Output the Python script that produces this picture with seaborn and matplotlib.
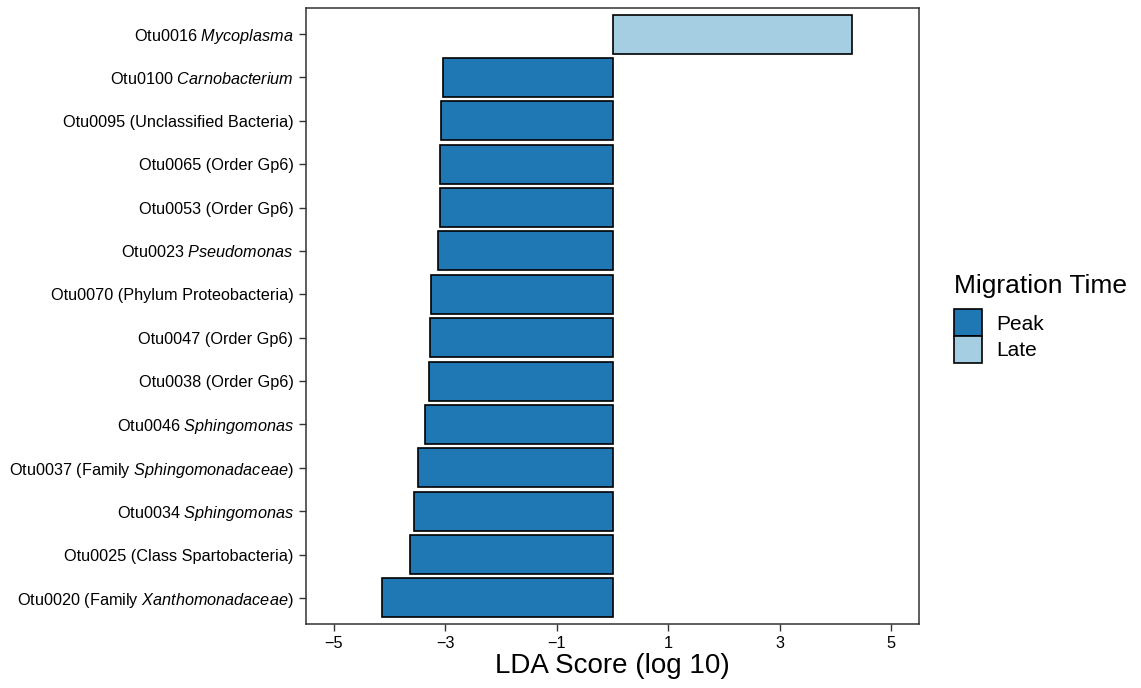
import matplotlib
matplotlib.use("Agg")
import matplotlib.pyplot as plt
import seaborn as sns
import pandas as pd
from matplotlib.patches import Patch

otu_labels = [
    "Otu0016 $\\it{Mycoplasma}$",
    "Otu0100 $\\it{Carnobacterium}$",
    "Otu0095 (Unclassified Bacteria)",
    "Otu0065 (Order Gp6)",
    "Otu0053 (Order Gp6)",
    "Otu0023 $\\it{Pseudomonas}$",
    "Otu0070 (Phylum Proteobacteria)",
    "Otu0047 (Order Gp6)",
    "Otu0038 (Order Gp6)",
    "Otu0046 $\\it{Sphingomonas}$",
    "Otu0037 (Family $\\it{Sphingomonadaceae}$)",
    "Otu0034 $\\it{Sphingomonas}$",
    "Otu0025 (Class Spartobacteria)",
    "Otu0020 (Family $\\it{Xanthomonadaceae}$)",
]
lda_scores = [4.30, -3.05, -3.07, -3.09, -3.09, -3.14, -3.25, -3.28, -3.30,
              -3.36, -3.49, -3.56, -3.63, -4.13]
migration_time = ["Late"] + ["Peak"] * 13
group_order = ["Peak", "Late"]
group_colors = {"Peak": "#1F78B4", "Late": "#A6CEE3"}
x_ticks = [-5, -3, -1, 1, 3, 5]

sns.set_style("white")
plt.rcParams["font.family"] = ["Liberation Sans", "DejaVu Sans"]
plt.rcParams["mathtext.fontset"] = "custom"
plt.rcParams["mathtext.rm"] = "Liberation Sans"
plt.rcParams["mathtext.it"] = "Liberation Sans:italic"
plt.rcParams["mathtext.bf"] = "Liberation Sans:bold"
plt.rcParams["text.color"] = "black"
plt.rcParams["axes.labelcolor"] = "black"
plt.rcParams["xtick.color"] = "#333333"
plt.rcParams["ytick.color"] = "#333333"
plt.rcParams["xtick.labelcolor"] = "black"
plt.rcParams["ytick.labelcolor"] = "black"

df = pd.DataFrame({"otu": otu_labels, "lda": lda_scores, "time": migration_time})

fig = plt.figure(figsize=(11.41, 6.88), dpi=100)
ax = fig.add_axes([306 / 1141, 1 - 624 / 688, (919 - 306) / 1141, (624 - 8) / 688])

sns.barplot(data=df, x="lda", y="otu", hue="time", hue_order=group_order,
            palette=group_colors, orient="h", dodge=False, width=0.9,
            saturation=1, edgecolor="black", linewidth=1.2, ax=ax, legend=False)

ax.set_xlim(-5.5, 5.5)
ax.set_ylim(len(otu_labels) - 1 + 0.6, -0.6)
ax.set_xticks(x_ticks)
ax.set_xticklabels(["\u2212" + str(abs(t)) if t < 0 else str(t) for t in x_ticks])
ax.set_xlabel("LDA Score (log 10)", fontsize=20, labelpad=1)
ax.set_ylabel("")
ax.tick_params(axis="both", which="both", direction="out", length=5, width=1,
               labelsize=11.7, pad=4, bottom=True, left=True)
for s in ax.spines.values():
    s.set_visible(True)
    s.set_color("#333333")
    s.set_linewidth(1.1)

handles = [Patch(facecolor=group_colors[g], edgecolor="black", linewidth=1.2, label=g)
           for g in group_order]
leg = fig.legend(handles=handles, title="Migration Time", loc="upper left",
                 bbox_to_anchor=(946 / 1141, 1 - 266 / 688), frameon=False,
                 fontsize=15, title_fontsize=19, handlelength=1.35, handleheight=1.6,
                 handletextpad=0.65, labelspacing=0.0, borderaxespad=0)
leg._legend_box.align = "left"
leg._legend_box.sep = 8

fig.savefig("out.png", dpi=100)
